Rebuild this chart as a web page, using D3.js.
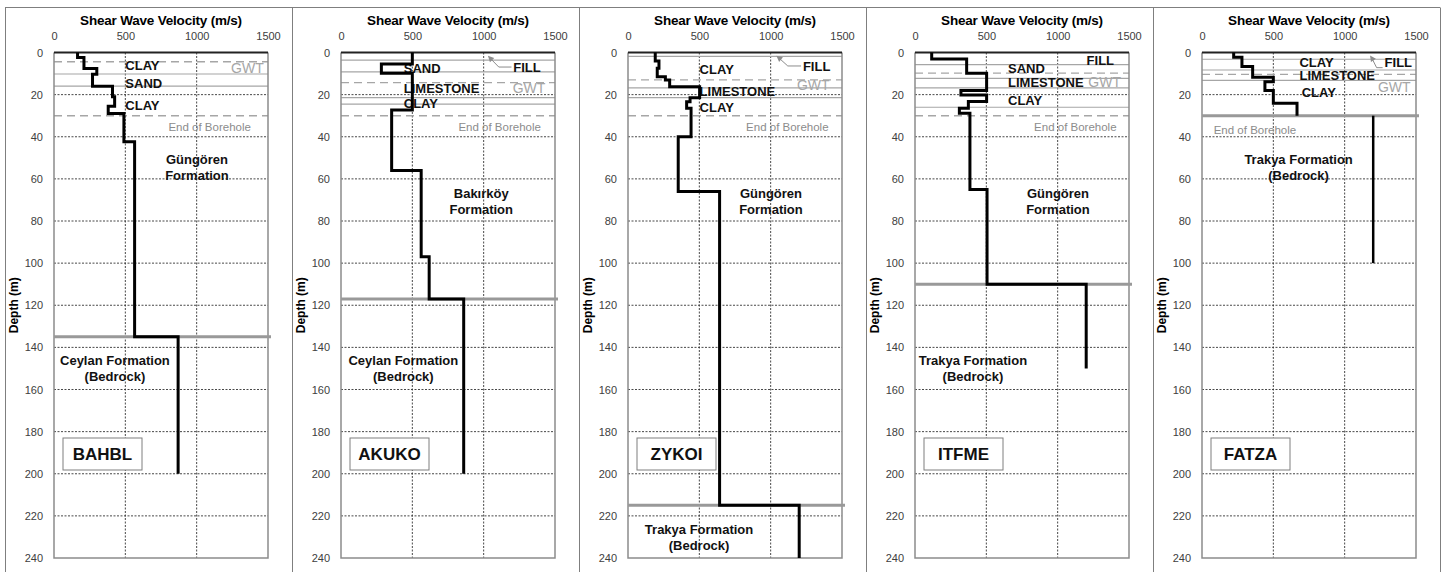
<!DOCTYPE html>
<html>
<head>
<meta charset="utf-8">
<script src="https://cdn.jsdelivr.net/npm/d3@7"></script>
<style>
  body { margin: 0; background: #fff; }
  text { font-family: "Liberation Sans", Arial, sans-serif; }
</style>
</head>
<body>
<svg id="chart" width="1442" height="572"></svg>
<script>
// ---- axes ----
const vsTicks = [0, 500, 1000, 1500];
const depthTicks = [0, 20, 40, 60, 80, 100, 120, 140, 160, 180, 200, 220, 240];
const stations = ["BAHBL", "AKUKO", "ZYKOI", "ITFME", "FATZA"];

// ---- Vs profiles: layer boundaries (m) and shear wave velocity (m/s) ----
const bahblDepth = [0, 2.4, 7.6, 10.3, 16, 21, 25.5, 29, 42.4, 135, 200];
const bahblVs    = [165, 210, 300, 270, 410, 425, 380, 490, 565, 870];

const akukoDepth = [0, 5.5, 9.9, 27.3, 56, 97, 117, 200];
const akukoVs    = [500, 283, 500, 355, 562, 618, 860];

const zykoiDepth = [0, 4, 7.5, 11.5, 13, 16.3, 21.5, 23.4, 26.5, 40, 66, 215, 240];
const zykoiVs    = [191, 217, 205, 262, 292, 502, 435, 411, 442, 352, 642, 1200];

const itfmeDepth = [0, 3.1, 9.9, 18.1, 20.2, 23.3, 26.5, 28.9, 65, 110, 150];
const itfmeVs    = [117, 362, 502, 322, 502, 374, 311, 385, 505, 1200];

const fatzaDepth = [0, 2.3, 6.7, 11.8, 13.9, 18.1, 24.1, 30];
const fatzaVs    = [222, 280, 355, 500, 441, 500, 666];
const fatzaRockDepth = [30, 100];
const fatzaRockVs    = [1200];

// ---- stratigraphy lines (m) ----
const bahblLayers = [10.2, 16];        const bahblDashed = [4.4, 30];  const bahblBase = 135;
const akukoLayers = [3.6, 9.2, 21.4, 24.5]; const akukoDashed = [14.3, 30]; const akukoBase = 117;
const zykoiLayers = [1.8, 16.8, 21.4];  const zykoiDashed = [13, 30];   const zykoiBase = 215;
const itfmeLayers = [5.8, 12.3, 16.8, 26]; const itfmeDashed = [9.8, 30]; const itfmeBase = 110;
const fatzaLayers = [3.2, 8.3, 13.2];   const fatzaDashed = [10.4];     const fatzaBase = 30;

// ---- annotations (placed in Vs / depth units) ----
const bahblNotes = [
  {t: "CLAY", v: 500, d: 5.9, k: "layer"},
  {t: "SAND", v: 500, d: 14.5, k: "layer"},
  {t: "CLAY", v: 500, d: 25, k: "layer"},
  {t: "GWT", v: 1470, d: 7.4, k: "gwt"},
  {t: "End of Borehole", v: 1380, d: 35.4, k: "eob"},
  {t: ["Güngören", "Formation"], v: 1002, d: 54.4, k: "fm"},
  {t: ["Ceylan Formation", "(Bedrock)"], v: 427, d: 149.8, k: "fm"}
];
const akukoNotes = [
  {t: "SAND", v: 440, d: 7.4, k: "layer"},
  {t: "LIMESTONE", v: 440, d: 16.9, k: "layer"},
  {t: "CLAY", v: 440, d: 24, k: "layer"},
  {t: "FILL", v: 1207, d: 6.9, k: "fill", arrow: [[1195, 6.9], [1106, 6.9], [1047, 2.8], [1030, 1.6]]},
  {t: "GWT", v: 1432, d: 16.9, k: "gwt"},
  {t: "End of Borehole", v: 1401, d: 35.4, k: "eob"},
  {t: ["Bakırköy", "Formation"], v: 983, d: 70.5, k: "fm"},
  {t: ["Ceylan Formation", "(Bedrock)"], v: 437, d: 149.8, k: "fm"}
];
const zykoiNotes = [
  {t: "CLAY", v: 502, d: 7.8, k: "layer"},
  {t: "LIMESTONE", v: 502, d: 18.3, k: "layer"},
  {t: "CLAY", v: 502, d: 25.9, k: "layer"},
  {t: "FILL", v: 1226, d: 6.4, k: "fill", arrow: [[1213, 6.4], [1120, 6.4], [1058, 2.6], [1040, 1.6]]},
  {t: "GWT", v: 1413, d: 15.4, k: "gwt"},
  {t: "End of Borehole", v: 1406, d: 35.4, k: "eob"},
  {t: ["Güngören", "Formation"], v: 1002, d: 70.5, k: "fm"},
  {t: ["Trakya Formation", "(Bedrock)"], v: 498, d: 229.8, k: "fm"}
];
const itfmeNotes = [
  {t: "FILL", v: 1395, d: 3.6, k: "fillR"},
  {t: "SAND", v: 652, d: 7.6, k: "layer"},
  {t: "LIMESTONE", v: 652, d: 14.2, k: "layer"},
  {t: "CLAY", v: 652, d: 22.6, k: "layer"},
  {t: "GWT", v: 1444, d: 14, k: "gwt"},
  {t: "End of Borehole", v: 1413, d: 35.4, k: "eob"},
  {t: ["Güngören", "Formation"], v: 1002, d: 70.5, k: "fm"},
  {t: ["Trakya Formation", "(Bedrock)"], v: 406, d: 149.8, k: "fm"}
];
const fatzaNotes = [
  {t: "CLAY", v: 683, d: 4.8, k: "layer"},
  {t: "LIMESTONE", v: 683, d: 11, k: "layer"},
  {t: "CLAY", v: 699, d: 18.8, k: "layer"},
  {t: "FILL", v: 1280, d: 4.5, k: "fill", arrow: [[1266, 7.2], [1224, 7.2], [1190, 2.6], [1178, 1.4]]},
  {t: "GWT", v: 1462, d: 16.4, k: "gwt"},
  {t: "End of Borehole", v: 82, d: 36.8, k: "eobL"},
  {t: ["Trakya Formation", "(Bedrock)"], v: 677, d: 54.4, k: "fm"}
];

const panels = [
  {name: stations[0], depth: bahblDepth, vs: bahblVs, layers: bahblLayers, dashed: bahblDashed, base: bahblBase, notes: bahblNotes},
  {name: stations[1], depth: akukoDepth, vs: akukoVs, layers: akukoLayers, dashed: akukoDashed, base: akukoBase, notes: akukoNotes},
  {name: stations[2], depth: zykoiDepth, vs: zykoiVs, layers: zykoiLayers, dashed: zykoiDashed, base: zykoiBase, notes: zykoiNotes},
  {name: stations[3], depth: itfmeDepth, vs: itfmeVs, layers: itfmeLayers, dashed: itfmeDashed, base: itfmeBase, notes: itfmeNotes},
  {name: stations[4], depth: fatzaDepth, vs: fatzaVs, layers: fatzaLayers, dashed: fatzaDashed, base: fatzaBase, notes: fatzaNotes,
   extra: {depth: fatzaRockDepth, vs: fatzaRockVs}}
];

// ---- layout ----
const svg = d3.select("#chart");
svg.append("rect").attr("width", 1442).attr("height", 572).attr("fill", "#fff");

const plotW = 214, plotTop = 52.5, plotH = 505.5;
const step = 287, firstX = 54;
const GRAY = "#a6a6a6";

// outer frames
svg.append("line").attr("x1", 5).attr("x2", 1440).attr("y1", 7.5).attr("y2", 7.5)
  .attr("stroke", "#7f7f7f").attr("stroke-width", 1);
for (let i = 0; i <= panels.length; i++) {
  const fx = 5.5 + i * step;
  svg.append("line").attr("x1", fx).attr("x2", fx).attr("y1", 7.5).attr("y2", 572)
    .attr("stroke", "#7f7f7f").attr("stroke-width", 1);
}

function stepPoints(depth, vs) {
  const pts = [];
  vs.forEach((v, i) => { pts.push([v, depth[i]]); pts.push([v, depth[i + 1]]); });
  return pts;
}

panels.forEach((p, i) => {
  const x0 = firstX + i * step;
  const x = d3.scaleLinear().domain([0, 1500]).range([x0, x0 + plotW]);
  const y = d3.scaleLinear().domain([0, 240]).range([plotTop, plotTop + plotH]);
  const g = svg.append("g");

  // title
  g.append("text").attr("x", x(750)).attr("y", 25).attr("text-anchor", "middle")
    .attr("font-size", 13.5).attr("font-weight", "bold").attr("fill", "#000")
    .attr("letter-spacing", -0.2).text("Shear Wave Velocity (m/s)");

  // top axis labels
  const xAxis = d3.axisTop(x).tickValues(vsTicks).tickFormat(d3.format("d"))
    .tickSize(0).tickPadding(13);
  const xa = g.append("g").attr("transform", `translate(0,${plotTop})`).call(xAxis);
  xa.select(".domain").remove();
  xa.selectAll("text").attr("font-size", 11).attr("fill", "#404040")
    .attr("font-family", "Liberation Sans, Arial, sans-serif");

  // left axis labels
  const yAxis = d3.axisLeft(y).tickValues(depthTicks).tickFormat(d3.format("d"))
    .tickSize(0).tickPadding(11);
  const ya = g.append("g").attr("transform", `translate(${x0},0)`).call(yAxis);
  ya.select(".domain").remove();
  ya.selectAll("text").attr("font-size", 11).attr("fill", "#404040")
    .attr("font-family", "Liberation Sans, Arial, sans-serif");

  g.append("text")
    .attr("transform", `translate(${x0 - 36},${y(120)}) rotate(-90)`)
    .attr("text-anchor", "middle").attr("font-size", 12).attr("font-weight", "bold")
    .text("Depth (m)");

  // dotted grid
  g.selectAll(".hg").data(depthTicks.filter(d => d > 0 && d < 240)).enter().append("line")
    .attr("x1", x0).attr("x2", x0 + plotW).attr("y1", d => y(d)).attr("y2", d => y(d))
    .attr("stroke", "#333").attr("stroke-width", 0.9).attr("stroke-dasharray", "2,1.5");
  g.selectAll(".vg").data([500, 1000]).enter().append("line")
    .attr("x1", d => x(d)).attr("x2", d => x(d)).attr("y1", plotTop).attr("y2", plotTop + plotH)
    .attr("stroke", "#333").attr("stroke-width", 0.9).attr("stroke-dasharray", "2,1.5");

  // stratigraphy
  g.selectAll(".ly").data(p.layers).enter().append("line")
    .attr("x1", x0).attr("x2", x0 + plotW).attr("y1", d => y(d)).attr("y2", d => y(d))
    .attr("stroke", GRAY).attr("stroke-width", 1.2);
  g.selectAll(".ds").data(p.dashed).enter().append("line")
    .attr("x1", x0).attr("x2", x0 + plotW).attr("y1", d => y(d)).attr("y2", d => y(d))
    .attr("stroke", GRAY).attr("stroke-width", 1.4).attr("stroke-dasharray", "8,5");

  // plot frame
  g.append("path")
    .attr("d", `M${x0},${plotTop}V${plotTop + plotH}H${x0 + plotW}V${plotTop}`)
    .attr("fill", "none").attr("stroke", "#8c8c8c").attr("stroke-width", 1.5);
  g.append("line").attr("x1", x0).attr("x2", x0 + plotW).attr("y1", plotTop).attr("y2", plotTop)
    .attr("stroke", "#222").attr("stroke-width", 2);

  // formation base
  g.append("line").attr("x1", x0).attr("x2", x0 + plotW + 3)
    .attr("y1", y(p.base)).attr("y2", y(p.base))
    .attr("stroke", "#999").attr("stroke-width", 3);

  // annotations
  p.notes.forEach(n => {
    const tx = x(n.v), ty = y(n.d);
    if (n.k === "layer") {
      g.append("text").attr("x", tx).attr("y", ty).attr("dy", "0.36em")
        .attr("font-size", 13).attr("font-weight", "bold").attr("fill", "#111").text(n.t);
    } else if (n.k === "fill" || n.k === "fillR") {
      g.append("text").attr("x", tx).attr("y", ty).attr("dy", "0.36em")
        .attr("text-anchor", n.k === "fillR" ? "end" : "start")
        .attr("font-size", 13).attr("font-weight", "bold").attr("fill", "#111").text(n.t);
      if (n.arrow) {
        const a = n.arrow.map(q => [x(q[0]), y(q[1])]);
        g.append("path").attr("d", d3.line()(a.slice(0, 3)))
          .attr("fill", "none").attr("stroke", "#8c8c8c").attr("stroke-width", 1);
        // arrow head
        const [tx2, ty2] = a[3], [fx, fy] = a[2];
        const ang = Math.atan2(ty2 - fy, tx2 - fx);
        const L = 6, W = 3;
        const hx = tx2 - L * Math.cos(ang), hy = ty2 - L * Math.sin(ang);
        g.append("path")
          .attr("d", `M${tx2},${ty2}L${hx + W * Math.sin(ang)},${hy - W * Math.cos(ang)}L${hx - W * Math.sin(ang)},${hy + W * Math.cos(ang)}Z`)
          .attr("fill", "#8c8c8c");
      }
    } else if (n.k === "gwt") {
      g.append("text").attr("x", tx).attr("y", ty).attr("dy", "0.36em").attr("text-anchor", "end")
        .attr("font-size", 14).attr("fill", "#a6a6a6").text(n.t);
    } else if (n.k === "eob" || n.k === "eobL") {
      g.append("text").attr("x", tx).attr("y", ty).attr("dy", "0.36em")
        .attr("text-anchor", n.k === "eob" ? "end" : "start")
        .attr("font-size", 11.5).attr("fill", "#8c8c8c").text(n.t);
    } else if (n.k === "fm") {
      const t = g.append("text").attr("x", tx).attr("y", ty).attr("text-anchor", "middle")
        .attr("font-size", 13).attr("font-weight", "bold").attr("fill", "#111");
      t.append("tspan").attr("x", tx).attr("dy", "-0.2em").text(n.t[0]);
      t.append("tspan").attr("x", tx).attr("dy", "1.2em").text(n.t[1]);
    }
  });

  // Vs profile
  const line = d3.line().x(d => x(d[0])).y(d => y(d[1]));
  g.append("path").attr("d", line(stepPoints(p.depth, p.vs)))
    .attr("fill", "none").attr("stroke", "#000").attr("stroke-width", 3)
    .attr("stroke-linejoin", "miter");
  if (p.extra) {
    g.append("path").attr("d", line(stepPoints(p.extra.depth, p.extra.vs)))
      .attr("fill", "none").attr("stroke", "#000").attr("stroke-width", 2.5);
  }

  // station box
  const bx = x0 + 9, by = 438;
  g.append("rect").attr("x", bx).attr("y", by).attr("width", 79).attr("height", 32)
    .attr("fill", "#fff").attr("stroke", "#7f7f7f").attr("stroke-width", 1);
  g.append("text").attr("x", bx + 39.5).attr("y", by + 16).attr("dy", "0.36em")
    .attr("text-anchor", "middle").attr("font-size", 17).attr("font-weight", "bold")
    .attr("fill", "#111").text(p.name);
});
</script>
</body>
</html>
